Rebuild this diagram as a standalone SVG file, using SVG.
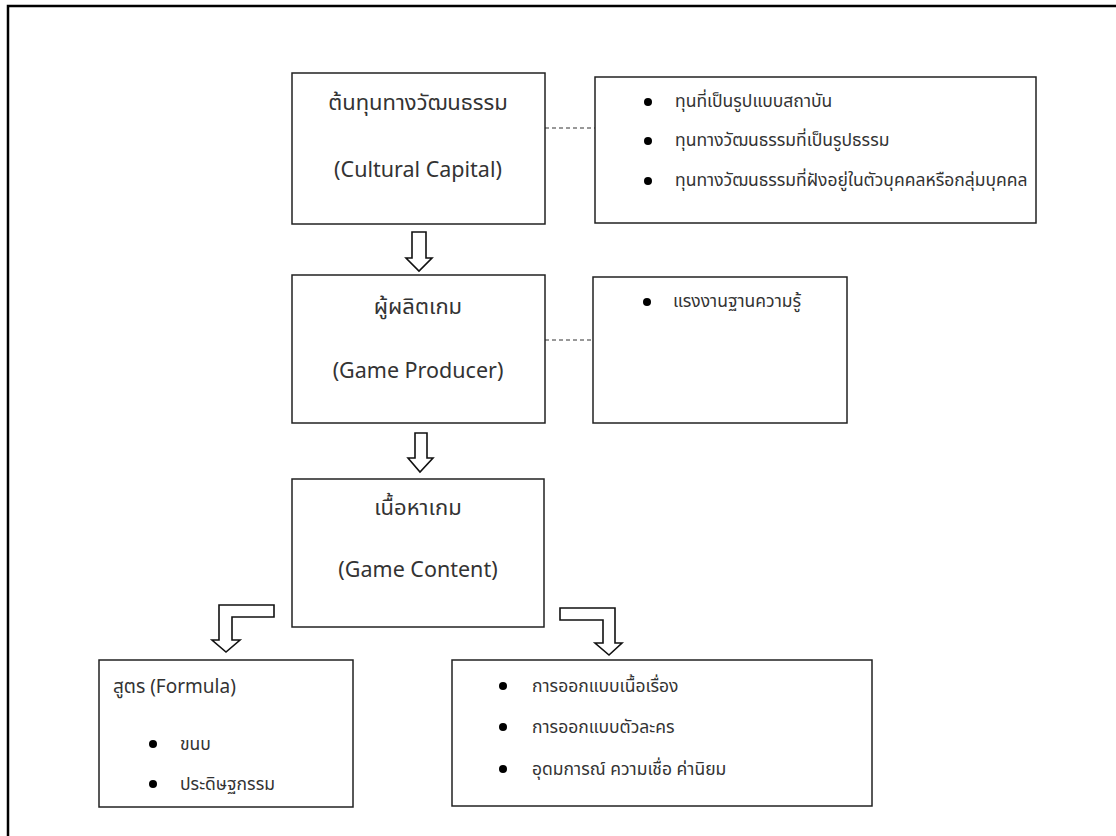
<svg xmlns="http://www.w3.org/2000/svg" width="1116" height="836" viewBox="0 0 1116 836">
<style>
.box{fill:#fff;stroke:#222;stroke-width:1.5}
.dash{stroke:#333;stroke-width:1;stroke-dasharray:4,3;fill:none}
.arrow{fill:#fff;stroke:#111;stroke-width:1.6;stroke-linejoin:miter}
.t{font-family:"Noto Sans Thai","Leelawadee UI","Noto Sans","DejaVu Sans",sans-serif;fill:#333}
.title{font-size:22px;text-anchor:middle}
.en{font-size:21.5px}
.item{font-size:17.5px}
.lbl{font-size:19px}
.bul{fill:#000}
</style>
<rect width="1116" height="836" fill="#fff"/>
<path d="M8,836 V6 H1116" fill="none" stroke="#000" stroke-width="2.5"/>

<g id="connectors">
<line class="dash" x1="545" y1="128" x2="595" y2="128"/>
<line class="dash" x1="545" y1="340" x2="593" y2="340"/>
<path class="arrow" d="M412,232 H426 V258 H432 L419,271 L406,258 H412 Z"/>
<path class="arrow" d="M415,433 H427 V458 H433 L420,472 L408,458 H415 Z"/>
<path class="arrow" d="M274,605 V617 H232 V640 H240 L226,652 L212,640 H219 V605 Z"/>
<path class="arrow" d="M560,608 V620 H603 V643 H595 L609,655 L622,643 H615 V608 Z"/>
</g>

<g id="cultural-capital">
<rect class="box" x="292" y="73" width="253" height="151"/>
<text class="t title" x="418" y="110">ต้นทุนทางวัฒนธรรม</text>
<text class="t title en" x="418" y="177">(Cultural Capital)</text>
</g>

<g id="cultural-capital-types">
<rect class="box" x="595" y="77" width="441" height="146"/>
<circle class="bul" cx="648" cy="102" r="4"/>
<text class="t item" x="675" y="107">ทุนที่เป็นรูปแบบสถาบัน</text>
<circle class="bul" cx="648" cy="141" r="4"/>
<text class="t item" x="675" y="146">ทุนทางวัฒนธรรมที่เป็นรูปธรรม</text>
<circle class="bul" cx="648" cy="181" r="4"/>
<text class="t item" x="675" y="186">ทุนทางวัฒนธรรมที่ฝังอยู่ในตัวบุคคลหรือกลุ่มบุคคล</text>
</g>

<g id="game-producer">
<rect class="box" x="292" y="275" width="253" height="148"/>
<text class="t title" x="418" y="314">ผู้ผลิตเกม</text>
<text class="t title en" x="418" y="378">(Game Producer)</text>
</g>

<g id="knowledge-worker">
<rect class="box" x="593" y="277" width="254" height="146"/>
<circle class="bul" cx="647" cy="302" r="4"/>
<text class="t item" x="673" y="307">แรงงานฐานความรู้</text>
</g>

<g id="game-content">
<rect class="box" x="292" y="479" width="252" height="148"/>
<text class="t title" x="418" y="515">เนื้อหาเกม</text>
<text class="t title en" x="418" y="577">(Game Content)</text>
</g>

<g id="formula">
<rect class="box" x="99" y="660" width="254" height="147"/>
<text class="t lbl" x="113" y="693">สูตร (Formula)</text>
<circle class="bul" cx="153" cy="744" r="4"/>
<text class="t item" x="180" y="750">ขนบ</text>
<circle class="bul" cx="153" cy="784" r="4"/>
<text class="t item" x="180" y="790">ประดิษฐกรรม</text>
</g>

<g id="design">
<rect class="box" x="452" y="660" width="420" height="146"/>
<circle class="bul" cx="503" cy="686" r="4"/>
<text class="t item" x="532" y="692">การออกแบบเนื้อเรื่อง</text>
<circle class="bul" cx="503" cy="727" r="4"/>
<text class="t item" x="532" y="733">การออกแบบตัวละคร</text>
<circle class="bul" cx="503" cy="769" r="4"/>
<text class="t item" x="532" y="775">อุดมการณ์ ความเชื่อ ค่านิยม</text>
</g>
</svg>
